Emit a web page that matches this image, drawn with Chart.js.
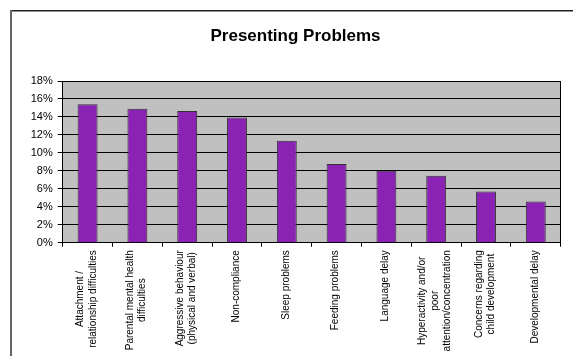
<!DOCTYPE html>
<html>
<head>
<meta charset="utf-8">
<script src="https://cdn.jsdelivr.net/npm/chart.js@4/dist/chart.umd.min.js"></script>
<style>
  html, body { margin: 0; padding: 0; background: #ffffff; }
  #wrap { width: 573px; height: 356px; position: relative; }
</style>
</head>
<body>
<div id="wrap"><canvas id="chart" width="573" height="356"></canvas></div>
<script>
// Presenting problems, share of referrals (%)
const categories = [
  ['Attachment /', 'relationship difficulties'],
  ['Parental mental health', 'difficulties'],
  ['Aggressive behaviour', '(physical and verbal)'],
  ['Non-compliance'],
  ['Sleep problems'],
  ['Feeding problems'],
  ['Language delay'],
  ['Hyperactivity and/or', 'poor', 'attention/concentration'],
  ['Concerns regarding', 'child development'],
  ['Developmental delay']
];
const shares = [15.4, 14.9, 14.65, 13.95, 11.35, 8.75, 8.0, 7.45, 5.7, 4.6];
const yTicks = [0, 2, 4, 6, 8, 10, 12, 14, 16, 18];

const LABEL_FONT = '10px "Liberation Sans", Arial, sans-serif';
const LABEL_LINE = 12.5;

// Outer frame, grey plot background and the plot's right edge
const framePlugin = {
  id: 'frame',
  beforeDraw(chart) {
    const { ctx, chartArea: a } = chart;
    ctx.save();
    ctx.fillStyle = '#ffffff';
    ctx.fillRect(0, 0, chart.width, chart.height);
    ctx.strokeStyle = '#222222';
    ctx.lineWidth = 1.5;
    ctx.beginPath();
    ctx.moveTo(10.5, 10.75);
    ctx.lineTo(chart.width, 10.75);
    ctx.stroke();
    ctx.strokeStyle = '#666666';
    ctx.lineWidth = 2;
    ctx.beginPath();
    ctx.moveTo(11, 10);
    ctx.lineTo(11, chart.height);
    ctx.stroke();
    ctx.fillStyle = '#c0c0c0';
    ctx.fillRect(a.left, a.top, a.right - a.left, a.bottom - a.top);
    ctx.restore();
  },
  afterDraw(chart) {
    const { ctx, chartArea: a } = chart;
    ctx.save();
    ctx.strokeStyle = '#000000';
    ctx.lineWidth = 1;
    ctx.beginPath();
    ctx.moveTo(Math.round(a.right) - 0.5, a.top);
    ctx.lineTo(Math.round(a.right) - 0.5, a.bottom);
    ctx.stroke();
    ctx.restore();
  }
};

// Vertical category labels: lines centred on each other, block hung below the axis
const categoryLabels = {
  id: 'categoryLabels',
  afterDraw(chart) {
    const { ctx } = chart;
    const xs = chart.scales.x;
    const top = chart.chartArea.bottom + 7.5;
    ctx.save();
    ctx.font = LABEL_FONT;
    ctx.fillStyle = '#000000';
    ctx.textAlign = 'center';
    ctx.textBaseline = 'middle';
    chart.data.labels.forEach((lines, i) => {
      const x = xs.getPixelForTick(i) - 1;
      const maxW = Math.max(...lines.map(l => ctx.measureText(l).width));
      ctx.save();
      ctx.translate(x, top);
      ctx.rotate(-Math.PI / 2);
      lines.forEach((line, j) => {
        const off = (j - (lines.length - 1) / 2) * LABEL_LINE;
        ctx.fillText(line, -maxW / 2, off);
      });
      ctx.restore();
    });
    ctx.restore();
  }
};

new Chart(document.getElementById('chart'), {
  type: 'bar',
  data: {
    labels: categories,
    datasets: [{
      data: shares,
      backgroundColor: '#8a23b3',
      borderColor: '#333333',
      borderWidth: 1,
      barPercentage: 0.4,
      categoryPercentage: 1.0
    }]
  },
  options: {
    responsive: false,
    animation: false,
    events: [],
    layout: { padding: { left: 30.3, right: 12.3, top: 0, bottom: 0 } },
    plugins: {
      legend: { display: false },
      tooltip: { enabled: false },
      title: {
        display: true,
        text: 'Presenting Problems',
        color: '#000000',
        font: { family: '"Liberation Sans", Arial, sans-serif', size: 17, weight: 'bold', lineHeight: 1.2 },
        padding: { top: 25.8, bottom: 34.8 }
      }
    },
    scales: {
      x: {
        offset: true,
        grid: { display: true, drawOnChartArea: false, drawTicks: true, tickLength: 4, color: '#000000', offset: true },
        border: { display: true, color: '#000000', width: 1 },
        ticks: { display: false },
        afterFit(scale) { scale.height = 113.3; }
      },
      y: {
        min: 0,
        max: 18,
        afterBuildTicks(scale) { scale.ticks = yTicks.map(v => ({ value: v })); },
        grid: { color: '#000000', lineWidth: 1, drawTicks: true, tickLength: 5 },
        border: { display: true, color: '#000000', width: 1 },
        ticks: {
          color: '#000000',
          padding: 5,
          font: { family: '"Liberation Sans", Arial, sans-serif', size: 11 },
          callback: v => v + '%'
        },
        afterFit(scale) { scale.width = 32.4; }
      }
    }
  },
  plugins: [framePlugin, categoryLabels]
});
</script>
</body>
</html>
